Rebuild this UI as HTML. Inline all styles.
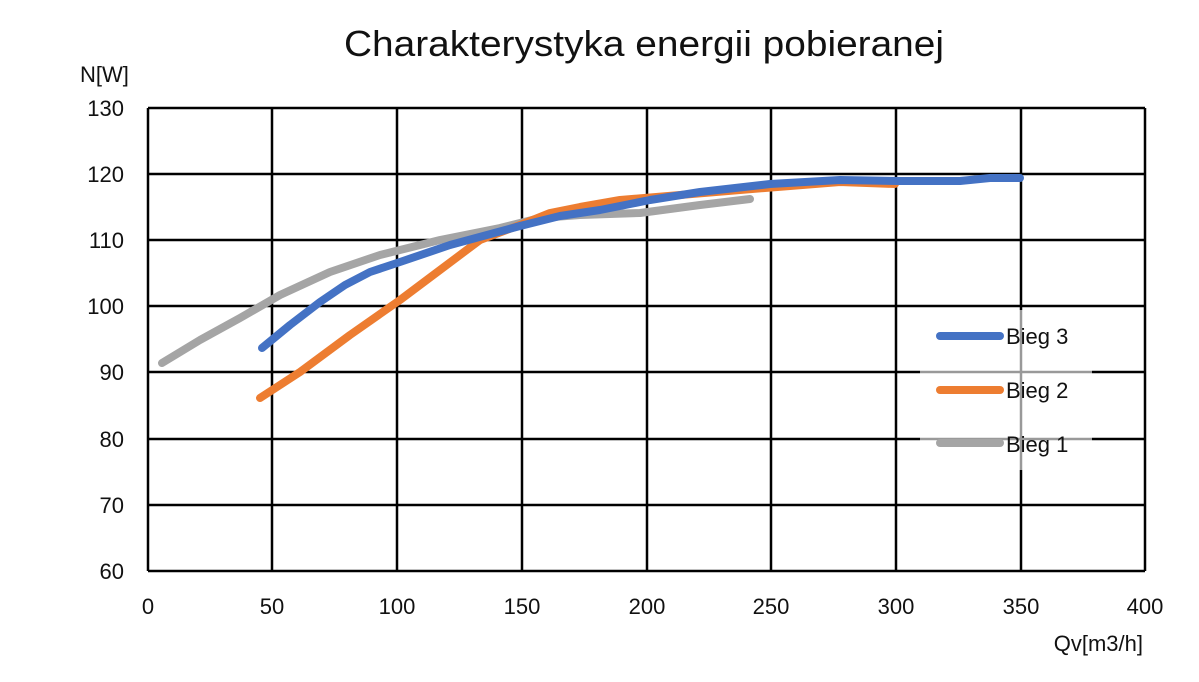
<!DOCTYPE html>
<html><head><meta charset="utf-8"><style>body{margin:0;background:#fff}</style></head>
<body>
<svg width="1199" height="677" xmlns="http://www.w3.org/2000/svg" font-family="Liberation Sans, sans-serif">
<rect width="1199" height="677" fill="#fff"/>
<text x="644" y="56" font-size="36" text-anchor="middle" fill="#111" textLength="600" lengthAdjust="spacingAndGlyphs">Charakterystyka energii pobieranej</text>
<text x="80" y="82" font-size="22" fill="#111">N[W]</text>
<g stroke="#000" stroke-width="2.5">
<line x1="148" y1="108" x2="1145" y2="108"/><line x1="148" y1="174" x2="1145" y2="174"/>
<line x1="148" y1="240" x2="1145" y2="240"/><line x1="148" y1="306" x2="1145" y2="306"/>
<line x1="148" y1="372" x2="1145" y2="372"/><line x1="148" y1="439" x2="1145" y2="439"/>
<line x1="148" y1="505" x2="1145" y2="505"/><line x1="148" y1="571" x2="1145" y2="571"/>
<line x1="148" y1="108" x2="148" y2="571"/><line x1="272" y1="108" x2="272" y2="571"/>
<line x1="397" y1="108" x2="397" y2="571"/><line x1="522" y1="108" x2="522" y2="571"/>
<line x1="647" y1="108" x2="647" y2="571"/><line x1="771" y1="108" x2="771" y2="571"/>
<line x1="896" y1="108" x2="896" y2="571"/><line x1="1021" y1="108" x2="1021" y2="571"/>
<line x1="1145" y1="108" x2="1145" y2="571"/>
</g>
<rect x="920" y="310" width="172" height="160" fill="#fff"/>
<g stroke="#999" stroke-width="2.5"><line x1="920" y1="372" x2="1092" y2="372"/><line x1="920" y1="439" x2="1092" y2="439"/><line x1="1021" y1="310" x2="1021" y2="470"/></g>
<g font-size="22" fill="#111" text-anchor="end">
<text x="124" y="116">130</text><text x="124" y="182">120</text><text x="124" y="248">110</text>
<text x="124" y="314">100</text><text x="124" y="380">90</text><text x="124" y="447">80</text>
<text x="124" y="513">70</text><text x="124" y="579">60</text></g>
<g font-size="22" fill="#111" text-anchor="middle">
<text x="148" y="614">0</text><text x="272" y="614">50</text><text x="397" y="614">100</text>
<text x="522" y="614">150</text><text x="647" y="614">200</text><text x="771" y="614">250</text>
<text x="896" y="614">300</text><text x="1021" y="614">350</text><text x="1145" y="614">400</text></g>
<text x="1143" y="651" font-size="22" fill="#111" text-anchor="end">Qv[m3/h]</text>
<g fill="none" stroke-width="8" stroke-linecap="round" stroke-linejoin="round">
<polyline stroke="#a5a5a5" points="162,363 200,340 240,318 280,295 330,272 380,255 440,240 500,228 540,218 580,215 640,213 700,205 750,199"/>
<polyline stroke="#ed7d31" points="260,398 300,372 350,335 400,300 440,270 480,240 520,225 550,213 580,207 620,200 680,195 740,190 790,186 840,182 895,184"/>
<polyline stroke="#4472c4" points="262,348 290,325 320,302 345,285 370,272 400,262 450,245 520,226 560,216 600,210 650,200 700,192 770,184 840,180 900,181 960,181 990,178 1020,178"/>
<line stroke="#4472c4" x1="940" y1="336" x2="1000" y2="336"/>
<line stroke="#ed7d31" x1="940" y1="390" x2="1000" y2="390"/>
<line stroke="#a5a5a5" x1="940" y1="443" x2="1000" y2="443"/>
</g>
<g font-size="22" fill="#111"><text x="1006" y="344">Bieg 3</text><text x="1006" y="398">Bieg 2</text><text x="1006" y="452">Bieg 1</text></g>
</svg>
</body></html>
